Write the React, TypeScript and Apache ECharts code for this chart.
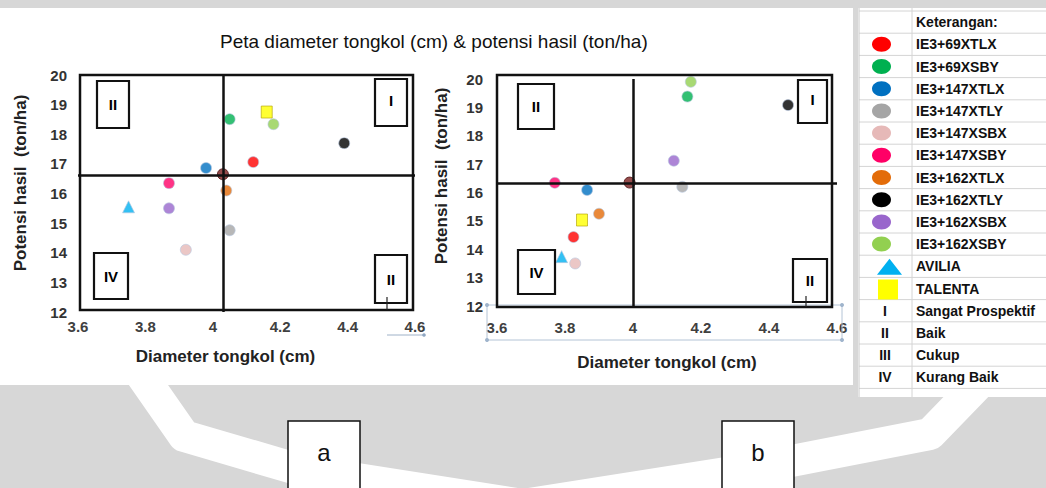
import React, { useEffect, useRef } from "react";
import * as echarts from "echarts";

// ---------- data ----------
const varieties = [
  "IE3+69XTLX",
  "IE3+69XSBY",
  "IE3+147XTLX",
  "IE3+147XTLY",
  "IE3+147XSBX",
  "IE3+147XSBY",
  "IE3+162XTLX",
  "IE3+162XTLY",
  "IE3+162XSBX",
  "IE3+162XSBY",
  "AVILIA",
  "TALENTA",
];
const varietyColors = [
  "#ff0000",
  "#00b050",
  "#0070c0",
  "#a5a5a5",
  "#e6b9b8",
  "#ff0066",
  "#e36c09",
  "#000000",
  "#9966cc",
  "#92d050",
  "#00b0f0",
  "#ffff00",
];
const varietySymbols = [
  "circle", "circle", "circle", "circle", "circle", "circle",
  "circle", "circle", "circle", "circle", "triangle", "rect",
];

// chart a
const diameterA = [4.12, 4.05, 3.98, 4.05, 3.92, 3.87, 4.04, 4.39, 3.87, 4.18, 3.75, 4.16];
const yieldA = [17.06, 18.51, 16.86, 14.76, 14.1, 16.35, 16.1, 17.7, 15.5, 18.34, 15.55, 18.75];
const meanA = [4.03, 16.65];
const splitA = [4.03, 16.62];

// chart b
const diameterB = [3.825, 4.16, 3.865, 4.145, 3.83, 3.77, 3.9, 4.456, 4.12, 4.17, 3.79, 3.85];
const yieldB = [14.43, 19.38, 16.09, 16.2, 13.5, 16.34, 15.25, 19.08, 17.12, 19.9, 13.74, 15.03];
const meanB = [3.99, 16.35];
const splitB = [4.0, 16.33];

const xMin = 3.6;
const xMax = 4.6;
const xStep = 0.2;
const yMin = 12;
const yMax = 20;
const yStep = 1;

const quadrantLabels = ["II", "I", "IV", "II"];
const classRoman = ["I", "II", "III", "IV"];
const classNames = ["Sangat Prospektif", "Baik", "Cukup", "Kurang Baik"];

const titleText = "Peta diameter tongkol (cm) & potensi hasil (ton/ha)";
const xName = "Diameter tongkol (cm)";
const yName = "Potensi hasil  (ton/ha)";
const legendHeader = "Keterangan:";
const panelLetters = ["a", "b"];

// ---------- styling ----------
const FONT = "'Liberation Sans Narrow', 'Liberation Sans', Arial, sans-serif";
const TABLE_TOP = 11;
const ROW_H = 22.2;

export default function App() {
  const ref = useRef<HTMLDivElement>(null);

  useEffect(() => {
    document.body.style.margin = "0";
    if (!ref.current) return;
    const chart = echarts.init(ref.current, undefined, { renderer: "svg" });

    const grids = [
      { left: 78, top: 75, width: 337, height: 237 },
      { left: 497, top: 79, width: 340, height: 227 },
    ];

    const axisLabelStyle = { fontFamily: FONT, fontWeight: "bold" as const, fontSize: 15, color: "#333" };

    const xAxes = [0, 1].map((i) => ({
      type: "value",
      gridIndex: i,
      min: xMin,
      max: xMax,
      interval: xStep,
      axisLine: { show: false },
      axisTick: { show: false },
      splitLine: { show: false },
      axisLabel: { ...axisLabelStyle, color: "#404040", margin: i === 0 ? 7 : 14 },
      name: xName,
      nameLocation: "middle",
      nameGap: i === 0 ? 36 : 48,
      nameTextStyle: {
        fontFamily: FONT,
        fontWeight: "bold",
        fontSize: 17,
        color: "#222",
        padding: i === 0 ? [0, 42, 0, 0] : [0, 0, 0, 0],
      },
    }));

    const yAxes = [0, 1].map((i) => ({
      type: "value",
      gridIndex: i,
      min: yMin,
      max: yMax,
      interval: yStep,
      axisLine: { show: false },
      axisTick: { show: false },
      splitLine: { show: false },
      axisLabel: { ...axisLabelStyle, margin: i === 0 ? 11 : 14 },
      name: yName,
      nameLocation: "middle",
      nameRotate: 90,
      nameGap: i === 0 ? 49 : 47,
      nameTextStyle: {
        fontFamily: FONT,
        fontWeight: "bold",
        fontSize: 17,
        color: "#222",
        padding: i === 0 ? [0, 0, 0, 21] : [0, 0, 0, 33],
      },
    }));

    const diam = [diameterA, diameterB];
    const yld = [yieldA, yieldB];
    const means = [meanA, meanB];
    const splits = [splitA, splitB];

    const series: any[] = [];
    [0, 1].forEach((c) => {
      series.push({
        type: "scatter",
        name: "mean",
        xAxisIndex: c,
        yAxisIndex: c,
        data: [means[c]],
        symbol: "circle",
        symbolSize: 11,
        itemStyle: { color: "#7a1f1f", borderColor: "#4a1010", borderWidth: 1 },
        z: 3,
        markLine: {
          silent: true,
          symbol: ["none", "none"],
          label: { show: false },
          lineStyle: { color: "#111", width: 2.5, type: "solid" },
          data: [{ xAxis: splits[c][0] }, { yAxis: splits[c][1] }],
        },
      });
      varieties.forEach((name, i) => {
        series.push({
          type: "scatter",
          name,
          xAxisIndex: c,
          yAxisIndex: c,
          data: [[diam[c][i], yld[c][i]]],
          symbol: varietySymbols[i],
          symbolSize: varietySymbols[i] === "circle" ? 11 : varietySymbols[i] === "rect" ? [11, 12] : [12, 12],
          itemStyle: {
            color: varietyColors[i],
            borderColor: varietySymbols[i] === "rect" ? "#b0a000" : "#b8c8e0",
            borderWidth: 0.8,
          },
          z: 4,
        });
      });
    });

    // ---------- graphics: background, frames, quadrant boxes, table ----------
    const g: any[] = [];
    g.push({ type: "rect", z: -100, shape: { x: 0, y: 0, width: 1046, height: 488 }, style: { fill: "#d7d7d7" } });
    g.push({
      type: "polyline",
      z: -99,
      shape: { points: [[138, 370], [184, 436], [300, 470], [523, 505], [745, 470], [930, 434], [992, 370]] },
      style: { stroke: "#ffffff", lineWidth: 32, fill: null, lineJoin: "round" },
    });
    g.push({ type: "rect", z: -98, shape: { x: 0, y: 8, width: 853, height: 377 }, style: { fill: "#ffffff" } });

    // chart frames
    const frames = [
      { x: 80, y: 75, width: 333, height: 235 },
      { x: 497, y: 75, width: 335, height: 232 },
    ];
    frames.forEach((f) => {
      g.push({ type: "rect", z: 5, shape: f, style: { fill: null, stroke: "#111", lineWidth: 2.5 } });
    });

    // quadrant boxes
    const qBoxes = [
      [
        { x: 97, y: 81, w: 32, h: 47 },
        { x: 375, y: 79, w: 32, h: 47 },
        { x: 94, y: 253, w: 34, h: 46 },
        { x: 375, y: 255, w: 32, h: 48 },
      ],
      [
        { x: 518, y: 84, w: 36, h: 45 },
        { x: 798, y: 80, w: 29, h: 43 },
        { x: 518, y: 250, w: 37, h: 44 },
        { x: 793, y: 259, w: 34, h: 43 },
      ],
    ];
    qBoxes.forEach((boxes) => {
      boxes.forEach((b, k) => {
        g.push({
          type: "rect",
          z: 6,
          shape: { x: b.x, y: b.y, width: b.w, height: b.h },
          style: { fill: "#ffffff", stroke: "#111", lineWidth: 2.2 },
        });
        g.push({
          type: "text",
          z: 7,
          x: b.x + b.w / 2,
          y: b.y + b.h / 2 - (k === 1 ? 2 : 0),
          style: { text: quadrantLabels[k], font: `bold 15px ${FONT}`, fill: "#000000", align: "center", verticalAlign: "middle" },
        });
      });
    });

    // stray ticks / selection handles
    g.push({ type: "line", z: 8, shape: { x1: 387, y1: 297, x2: 387, y2: 310 }, style: { stroke: "#222", lineWidth: 1.2 } });
    g.push({ type: "line", z: 8, shape: { x1: 806, y1: 296, x2: 806, y2: 307 }, style: { stroke: "#222", lineWidth: 1.2 } });
    g.push({ type: "line", z: 1, shape: { x1: 387, y1: 335, x2: 424, y2: 335 }, style: { stroke: "#9fb2c8", lineWidth: 1 } });
    g.push({ type: "circle", z: 1, shape: { cx: 424, cy: 335, r: 1.8 }, style: { fill: "#8fa6c2" } });
    g.push({ type: "rect", z: 1, shape: { x: 487, y: 305, width: 355, height: 35 }, style: { fill: null, stroke: "#b4c4d6", lineWidth: 1 } });
    [[487, 305], [842, 305], [487, 340], [842, 340]].forEach(([cx, cy]) => {
      g.push({ type: "circle", z: 1, shape: { cx, cy, r: 2 }, style: { fill: "#9fb4cc" } });
    });

    // panel letter boxes
    const letterBoxes = [{ x: 288, y: 421 }, { x: 722, y: 421 }];
    letterBoxes.forEach((b, k) => {
      g.push({
        type: "rect",
        z: 2,
        shape: { x: b.x, y: b.y, width: 72, height: 80 },
        style: { fill: "#ffffff", stroke: "#111", lineWidth: 1.5 },
      });
      g.push({
        type: "text",
        z: 3,
        x: b.x + 36,
        y: 452,
        style: { text: panelLetters[k], font: `24px ${FONT}`, fill: "#111", align: "center", verticalAlign: "middle" },
      });
    });

    // legend table
    const nRows = 17;
    const tableBottom = 397;
    g.push({ type: "rect", z: 1, shape: { x: 858, y: 8, width: 188, height: tableBottom - 8 }, style: { fill: "#ffffff" } });
    for (let k = 0; k <= nRows; k++) {
      const y = TABLE_TOP + ROW_H * k;
      g.push({ type: "line", z: 2, shape: { x1: 859, y1: y, x2: 1046, y2: y }, style: { stroke: "#d4d4d4", lineWidth: 1 } });
    }
    g.push({ type: "line", z: 2, shape: { x1: 859, y1: 8, x2: 859, y2: tableBottom }, style: { stroke: "#c8c8c8", lineWidth: 1 } });
    g.push({ type: "line", z: 2, shape: { x1: 912, y1: 8, x2: 912, y2: tableBottom }, style: { stroke: "#d4d4d4", lineWidth: 1 } });
    const rowC = (i: number) => TABLE_TOP + ROW_H * i + ROW_H / 2;
    g.push({
      type: "text",
      z: 3,
      x: 916,
      y: rowC(0),
      style: { text: legendHeader, font: `bold 14px ${FONT}`, fill: "#111", verticalAlign: "middle" },
    });
    varieties.forEach((name, i) => {
      const cy = rowC(i + 1);
      const sym = varietySymbols[i];
      if (sym === "circle") {
        g.push({ type: "ellipse", z: 3, shape: { cx: 881.5, cy, rx: 9.5, ry: 7.5 }, style: { fill: varietyColors[i] } });
      } else if (sym === "triangle") {
        g.push({
          type: "polygon",
          z: 3,
          shape: { points: [[877, cy + 8.5], [902, cy + 8.5], [889.5, cy - 7.5]] },
          style: { fill: varietyColors[i] },
        });
      } else {
        g.push({ type: "rect", z: 3, shape: { x: 878, y: cy - 9, width: 20, height: 20 }, style: { fill: varietyColors[i] } });
      }
      g.push({
        type: "text",
        z: 3,
        x: 916,
        y: cy,
        style: { text: name, font: `bold 14px ${FONT}`, fill: "#111", verticalAlign: "middle" },
      });
    });
    classRoman.forEach((r, k) => {
      const cy = rowC(13 + k);
      g.push({
        type: "text",
        z: 3,
        x: 885,
        y: cy,
        style: { text: r, font: `bold 14px ${FONT}`, fill: "#111", align: "center", verticalAlign: "middle" },
      });
      g.push({
        type: "text",
        z: 3,
        x: 916,
        y: cy,
        style: { text: classNames[k], font: `bold 14px ${FONT}`, fill: "#111", verticalAlign: "middle" },
      });
    });

    chart.setOption({
      animation: false,
      title: {
        text: titleText,
        left: 215,
        top: 27,
        textStyle: { fontFamily: FONT, fontSize: 19, fontWeight: "normal", color: "#111" },
      },
      grid: grids,
      xAxis: xAxes,
      yAxis: yAxes,
      series,
      graphic: g,
    });

    return () => chart.dispose();
  }, []);

  return <div ref={ref} style={{ width: 1046, height: 488 }} />;
}
